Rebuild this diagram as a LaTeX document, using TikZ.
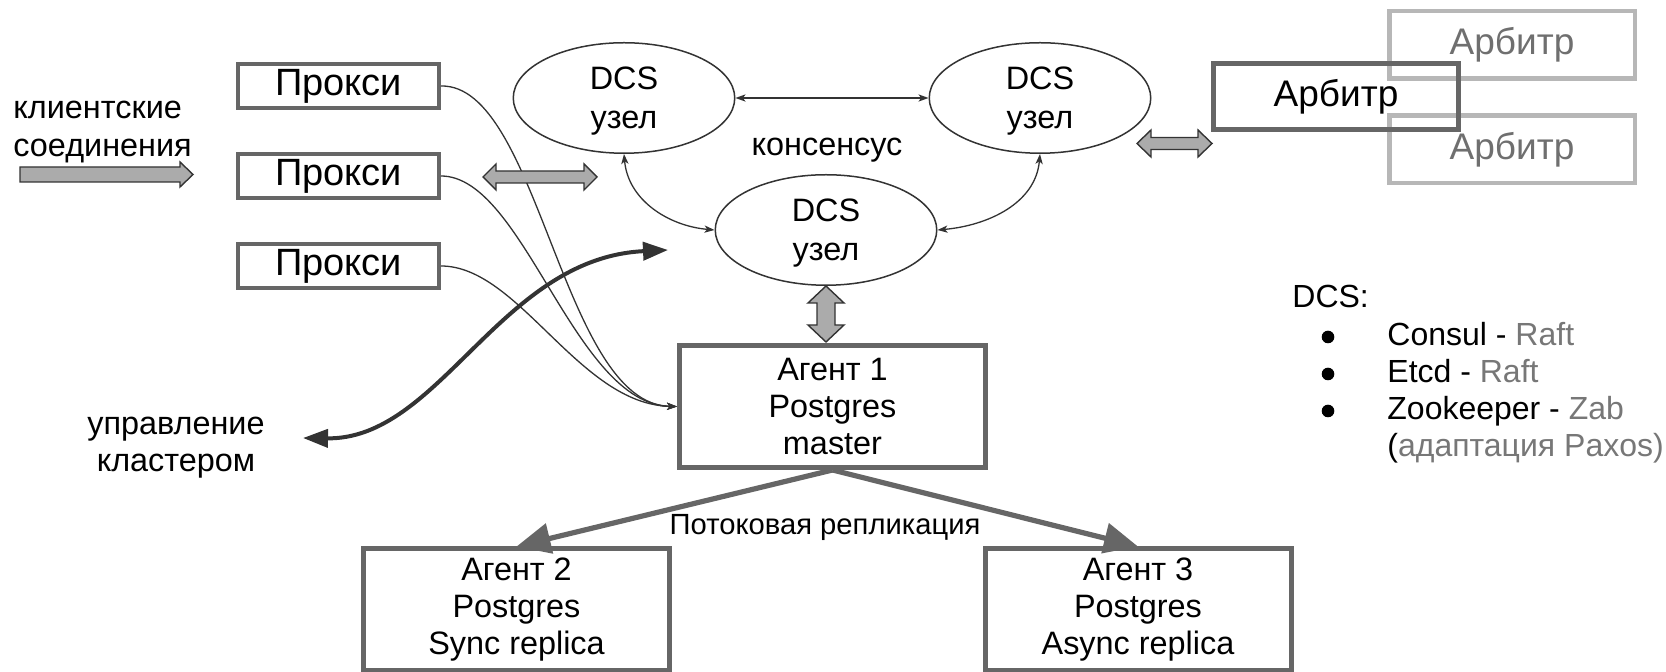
\documentclass[tikz,border=0pt]{standalone}
\usepackage{fontspec}
\setmainfont{Liberation Sans}
\usetikzlibrary{arrows.meta,shapes.geometric}

\definecolor{boxgray}{HTML}{666666}
\definecolor{lightbox}{HTML}{B7B7B7}
\definecolor{linedark}{HTML}{333333}
\definecolor{arrowfill}{HTML}{ABABAB}
\definecolor{softtext}{HTML}{6F6F6F}
\definecolor{listgray}{HTML}{777777}

\tikzset{
  lbl/.style={inner sep=0pt, font=\fontsize{16.2}{19}\selectfont},
  listlbl/.style={inner sep=0pt, anchor=base west, font=\fontsize{16}{16}\selectfont},
  proxybox/.style={draw=boxgray, line width=2pt, minimum width=100.5pt, minimum height=22pt,
    inner sep=0pt, font=\fontsize{19}{22}\selectfont},
  agentbox/.style={draw=boxgray, line width=2.5pt, minimum width=153pt, minimum height=61pt,
    inner sep=0pt, align=center, font=\fontsize{16.2}{18.5}\selectfont},
  arbbox/.style={draw=boxgray, line width=2.5pt, minimum width=122.5pt, minimum height=33pt,
    inner sep=0pt, font=\fontsize{18.5}{22}\selectfont},
  arbspare/.style={draw=lightbox, line width=2.25pt, minimum width=122.75pt, minimum height=33.75pt,
    inner sep=0pt, text=softtext, font=\fontsize{18.5}{22}\selectfont},
  dcsnode/.style={ellipse, draw=linedark, line width=0.75pt, fill=white, minimum width=110.75pt,
    minimum height=55.25pt, inner sep=0pt},
  dcstext/.style={inner sep=0pt, align=center, font=\fontsize{16.2}{19.5}\selectfont},
  thinlink/.style={draw=linedark, line width=0.65pt},
  thintip/.tip={Stealth[length=5pt,width=3.6pt,inset=1.3pt]},
  fattip/.tip={Triangle[length=12.5pt,width=9pt]},
  repltip/.tip={Triangle[length=17pt,width=15pt]},
  mgmt/.style={draw=linedark, line width=2pt},
  repl/.style={draw=boxgray, line width=2.6pt, -repltip},
  blockfill/.style={fill=arrowfill, draw=linedark, line width=0.7pt, line join=miter},
  bullet/.style={circle, fill=black, inner sep=0pt, minimum size=6.3pt},
  pics/dblblock/.style n args={4}{code={
    \path[blockfill] (-#1,0) -- (-#1+#4,-#2) -- (-#1+#4,-#3) -- (#1-#4,-#3) -- (#1-#4,-#2)
      -- (#1,0) -- (#1-#4,#2) -- (#1-#4,#3) -- (-#1+#4,#3) -- (-#1+#4,#2) -- cycle;
  }}
}

\begin{document}
\begin{tikzpicture}[x=0.5pt,y=-0.5pt]
\useasboundingbox (0,0) rectangle (1666,672);

% spare arbiters, then the active one
\node[arbspare] (arbA) at (1512,45) {Арбитр};
\node[arbspare] (arbB) at (1512,149.5) {Арбитр};
\node[arbbox] (arb) at (1336,96.5) {Арбитр};

% proxies
\node[proxybox] (p1) at (338.5,86) {Прокси};
\node[proxybox] (p2) at (338.5,176) {Прокси};
\node[proxybox] (p3) at (338.5,266) {Прокси};

% DCS cluster
\node[dcsnode] (e1) at (624,98) {};
\node[dcsnode] (e2) at (1040,98) {};
\node[dcsnode] (e3) at (826,230) {};
\node[dcstext] (e1t) at ([yshift=-1.6pt]e1.center) {DCS\\узел};
\node[dcstext] (e2t) at ([yshift=-1.6pt]e2.center) {DCS\\узел};
\node[dcstext] (e3t) at ([yshift=-1.6pt]e3.center) {DCS\\узел};
\node[lbl, anchor=base] (cons) at (827,156) {консенсус};

% agents
\node[agentbox] (a1) at (832.5,406.5) {Агент 1\\Postgres\\master};
\node[agentbox] (a2) at (516.5,610) {Агент 2\\Postgres\\Sync replica};
\node[agentbox] (a3) at (1138,610) {Агент 3\\Postgres\\Async replica};
\node[inner sep=0pt, anchor=base, font=\fontsize{14.6}{16}\selectfont] (repllbl) at (825,535) {Потоковая репликация};

% free labels
\node[lbl, anchor=base west] (cl1) at (13,119) {клиентские};
\node[lbl, anchor=base west] (cl2) at (13,157) {соединения};
\node[lbl, anchor=base] (mg1) at (176,435) {управление};
\node[lbl, anchor=base] (mg2) at (176,472) {кластером};

% DCS list
\node[listlbl] (dcs) at (1292,308) {DCS:};
\node[bullet] (b1) at (1328,337) {};
\node[bullet] (b2) at (1328,374) {};
\node[bullet] (b3) at (1328,411) {};
\node[listlbl] (l1) at (1387,346) {Consul - \textcolor{listgray}{Raft}};
\node[listlbl] (l2) at (1387,383) {Etcd - \textcolor{listgray}{Raft}};
\node[listlbl] (l3) at (1387,420) {Zookeeper - \textcolor{listgray}{Zab}};
\node[listlbl] (l4) at (1387,457) {(\textcolor{listgray}{адаптация Paxos)}};

% consensus links
\draw[thinlink, thintip-thintip] (e1.east) -- (e2.west);
\draw[thinlink, thintip-thintip] (e1.south) to[out=-85,in=175] (e3.west);
\draw[thinlink, thintip-thintip] (e2.south) to[out=-95,in=5] (e3.east);

% proxies talk to the master
\draw[thinlink, -thintip] (p1.east) .. controls +(98,-2) and +(-115,-2) .. (a1.west);
\draw[thinlink, -thintip] (p2.east) .. controls +(83,0) and +(-103,-2) .. (a1.west);
\draw[thinlink, -thintip] (p3.east) .. controls +(78,0) and +(-98,-2) .. (a1.west);

% cluster management
\coordinate (mgL) at (303,438);
\coordinate (mgR) at (668,250);
\draw[mgmt, fattip-fattip] (mgL) .. controls (440,440) and (500,258) .. (mgR);

% streaming replication
\draw[repl] (a1.south) -- (a2.north);
\draw[repl] (a1.south) -- (a3.north);

% block arrows
\path[blockfill] (20,167) -- (180,167) -- (180,162) -- (193,174.5) -- (180,187) -- (180,182) -- (20,182) -- cycle;
\pic at (540,177) {dblblock={57}{13}{6}{13}};
\pic at (1174.5,143.5) {dblblock={37.5}{13.5}{6}{14}};
\pic[rotate=90] at (826,314) {dblblock={28}{18}{9}{17}};
\end{tikzpicture}
\end{document}
